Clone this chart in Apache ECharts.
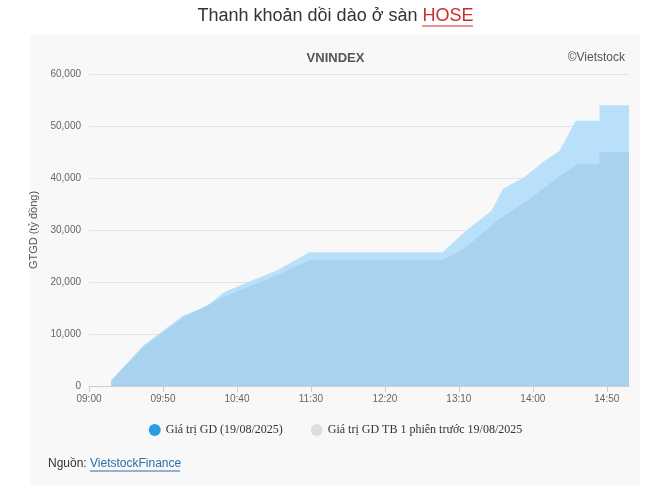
<!DOCTYPE html>
<html><head><meta charset="utf-8">
<script src="https://cdn.jsdelivr.net/npm/echarts@6/dist/echarts.min.js"></script>
<style>html,body{margin:0;padding:0;background:#fff}#c{width:671px;height:495px}</style>
</head><body><div id="c"></div>
<script>
// minutes after 09:00
var todayMin = [15, 15, 37, 64, 79, 91, 105, 127, 149, 239, 255, 272, 280, 294, 308, 318, 329, 345, 345, 365];
var todayVal = [0, 1100, 7900, 13600, 15200, 18000, 19700, 22200, 25700, 25700, 29900, 33700, 38000, 40100, 43300, 45200, 51000, 51000, 54000, 54000];
var prevMin = [15, 15, 37, 64, 91, 127, 149, 239, 255, 274, 299, 316, 330, 345, 345, 365];
var prevVal = [0, 1000, 7500, 13200, 17100, 21300, 24200, 24200, 26700, 31400, 36200, 39900, 42700, 42700, 45000, 45000];
var yTicks = [0, 10000, 20000, 30000, 40000, 50000, 60000];

function pairs(xs, ys) { return xs.map(function (x, i) { return [x, ys[i]]; }); }
function hhmm(m) {
  var h = 9 + Math.floor(m / 60), mm = m % 60;
  return (h < 10 ? '0' : '') + h + ':' + (mm < 10 ? '0' : '') + mm;
}

var chart = echarts.init(document.getElementById('c'));
chart.setOption({
  animation: false,
  textStyle: { fontFamily: 'Arial, Liberation Sans, sans-serif' },
  graphic: [
    { type: 'rect', shape: { x: 30, y: 35, width: 610, height: 450 }, style: { fill: '#f8f8f8' }, z: -10 },
    { type: 'text', left: 'center', top: 7, style: { text: 'Thanh khoản dồi dào ở sàn {h|HOSE}', fontSize: 18, fill: '#333', fontFamily: 'Arial',
      rich: { h: { fontSize: 18, fill: '#c9302c', fontFamily: 'Arial' } } } },
    { type: 'line', shape: { x1: 422, y1: 26, x2: 473, y2: 26 }, style: { stroke: '#c9302c', lineWidth: 1 } },
    { type: 'text', left: 'center', top: 52, style: { text: 'VNINDEX', fontSize: 13, fontWeight: 'bold', fill: '#555' } },
    { type: 'text', right: 46, top: 52, style: { text: '©Vietstock', fontSize: 12, fill: '#555' } },
    { type: 'text', left: 48, top: 458, style: { text: 'Nguồn: {l|VietstockFinance}', fontSize: 12, fill: '#333',
      rich: { l: { fontSize: 12, fill: '#2a6fa8' } } } },
    { type: 'line', shape: { x1: 90, y1: 471, x2: 180, y2: 471 }, style: { stroke: '#2a6fa8', lineWidth: 1 } }
  ],
  legend: {
    bottom: 54, left: 'center', icon: 'circle', itemWidth: 12, itemHeight: 12, itemGap: 28,
    textStyle: { fontFamily: 'Liberation Serif, Times New Roman, serif', fontSize: 12, color: '#333' },
    selectedMode: false
  },
  grid: { left: 89, right: 42, top: 74, bottom: 109 },
  xAxis: {
    type: 'value', min: 0, max: 365, interval: 50,
    axisLine: { lineStyle: { color: '#ccc' } },
    axisTick: { show: true, lineStyle: { color: '#ccc' }, length: 6 },
    splitLine: { show: false },
    axisLabel: { formatter: hhmm, color: '#666', fontSize: 10, showMaxLabel: false }
  },
  yAxis: {
    type: 'value', min: 0, max: 60000, interval: 10000,
    name: 'GTGD (tỷ đồng)', nameLocation: 'middle', nameGap: 46, nameRotate: 90,
    nameTextStyle: { color: '#555', fontSize: 11 },
    axisLine: { show: false }, axisTick: { show: false },
    splitLine: { lineStyle: { color: '#e3e3e3' } },
    axisLabel: { color: '#666', fontSize: 10, formatter: function (v) { return v.toLocaleString('en-US'); } }
  },
  series: [
    { name: 'Giá trị GD (19/08/2025)', type: 'line', data: pairs(todayMin, todayVal), showSymbol: false,
      itemStyle: { color: '#2b9be4' }, lineStyle: { width: 0 }, areaStyle: { color: '#b9e0fa', opacity: 1 } },
    { name: 'Giá trị GD TB 1 phiên trước 19/08/2025', type: 'line', data: pairs(prevMin, prevVal), showSymbol: false,
      itemStyle: { color: '#dcdce2' }, lineStyle: { width: 0 }, areaStyle: { color: '#a9d2ef', opacity: 1 } }
  ]
});
</script></body></html>
